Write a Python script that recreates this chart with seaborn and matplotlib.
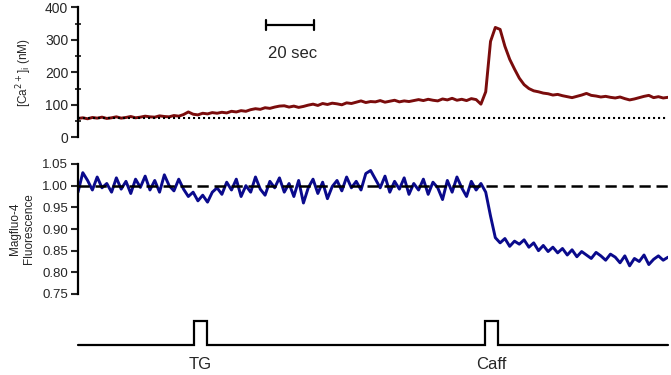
import numpy as np
import pandas as pd
import matplotlib
matplotlib.use("Agg")
import matplotlib.pyplot as plt
import seaborn as sns

# ---------------- data ----------------
time_s = list(range(0, 248, 2))  # seconds

ca_nM = [
    58, 60, 57, 61, 59, 62, 58, 60, 63, 59, 61, 64, 60, 62, 65,
    63, 62, 66, 64, 63, 67, 65, 70, 78, 71, 69, 74, 72, 76, 74,
    77, 75, 80, 78, 82, 80, 85, 88, 86, 91, 89, 93, 96,
    97, 93, 96, 92, 95, 99, 102, 98, 104, 101, 105, 103, 100, 106, 104,
    108, 112, 107, 110, 109, 113, 108, 111, 114, 109, 112, 110, 113,
    116, 113, 117, 114, 112, 118, 115, 120, 114, 117, 113, 119, 116,
    102,
    140, 295, 338, 332, 280, 240, 210, 182, 162, 150, 143, 140, 136, 134, 130, 132,
    128, 125, 122, 126, 130, 135, 129, 127, 124, 126, 123, 121, 124, 119, 115,
    118, 122, 126, 129, 122, 125, 121, 123,
]

magfluo = [
    0.985, 1.030, 1.012, 0.990, 1.020, 0.995, 1.005, 0.985, 1.018, 0.992, 1.010, 0.982, 1.015, 0.996, 1.022,
    0.990, 1.012, 0.985, 1.025, 1.000, 0.988, 1.015, 0.992, 0.975, 0.985, 0.965, 0.978, 0.962, 0.985, 0.995,
    0.980, 1.008, 0.990, 1.015, 0.975, 1.000, 0.985, 1.020, 0.992, 0.978, 1.010, 0.995, 1.018,
    0.985, 1.005, 0.975, 1.012, 0.960, 0.995, 1.015, 0.982, 1.008, 0.970, 0.998, 1.012, 0.988, 1.020, 0.995,
    1.010, 0.990, 1.028, 1.035, 1.015, 0.995, 1.022, 0.985, 1.010, 0.992, 1.018, 0.980, 1.005,
    0.990, 1.015, 0.980, 1.008, 0.995, 0.968, 1.012, 0.985, 1.020, 0.995, 0.975, 1.010, 0.990,
    1.005,
    0.985, 0.930, 0.880, 0.868, 0.878, 0.860, 0.872, 0.865, 0.875, 0.858, 0.868, 0.850, 0.862, 0.848, 0.858, 0.845,
    0.855, 0.840, 0.852, 0.836, 0.848, 0.840, 0.832, 0.846, 0.838, 0.828, 0.842, 0.835, 0.822, 0.838, 0.815,
    0.832, 0.825, 0.840, 0.818, 0.830, 0.838, 0.828, 0.835,
]

ca_baseline = 58
mag_baseline = 1.00
ca_ticks = [0, 100, 200, 300, 400]
mag_ticks = [0.75, 0.80, 0.85, 0.90, 0.95, 1.00, 1.05]

stim_labels = ["TG", "Caff"]
stim_on = [48.3, 169.6]
stim_off = [53.8, 175.0]
t_end = 246

scalebar_start = 78.3
scalebar_len = 20

# ---------------- style ----------------
sns.set_style("white")
plt.rcParams["font.family"] = ["Liberation Sans", "DejaVu Sans"]

W, H = 671, 375
fig = plt.figure(figsize=(W / 100, H / 100), dpi=100)

def box(x0, y0, x1, y1):
    return [x0 / W, 1 - y1 / H, (x1 - x0) / W, (y1 - y0) / H]

ax1 = fig.add_axes(box(78, 7.3, 668, 137.3))
ax2 = fig.add_axes(box(78, 164, 668, 294))
ax3 = fig.add_axes(box(78, 321, 668, 345))

red = "#7a0c0c"
blue = "#0a0a8c"

df = pd.DataFrame({"t": time_s, "ca": ca_nM, "mag": magfluo})

# ---- top: Ca ----
sns.lineplot(data=df, x="t", y="ca", ax=ax1, color=red, lw=2.1,
             estimator=None, sort=False)
ax1.plot([0, t_end - 1], [ca_baseline, ca_baseline], color="black",
         lw=1.5, ls=(0, (1, 1.4)))
ax1.set_xlim(0, t_end)
ax1.set_ylim(0, 400)
ax1.set_yticks(ca_ticks)
ax1.set_yticks([50, 150, 250, 350], minor=True)
ax1.set_xticks([])
for s in ["top", "right", "bottom"]:
    ax1.spines[s].set_visible(False)
ax1.spines["left"].set_linewidth(1.6)
ax1.spines["left"].set_color("black")
ax1.tick_params(axis="y", which="major", direction="out", length=5, width=1.5,
                labelsize=10, left=True, pad=2)
ax1.tick_params(axis="y", which="minor", direction="inout", length=4, width=1.3,
                left=True)
ax1.set_xlabel("")
ax1.set_ylabel(r"[Ca$^{2+}$]$_{\rm i}$ (nM)", fontsize=8.5, labelpad=8)

# scale bar
y_sb = 345
ax1.plot([scalebar_start, scalebar_start + scalebar_len], [y_sb, y_sb],
         color="black", lw=1.6, clip_on=False)
for xx in [scalebar_start, scalebar_start + scalebar_len]:
    ax1.plot([xx, xx], [y_sb - 15, y_sb + 15], color="black", lw=1.6, clip_on=False)
ax1.text(scalebar_start + scalebar_len / 2 + 1, 258, "20 sec", ha="center",
         va="center", fontsize=12)

# ---- bottom: Magfluo ----
sns.lineplot(data=df, x="t", y="mag", ax=ax2, color=blue, lw=2.1,
             estimator=None, sort=False)
ax2.plot([0, t_end], [mag_baseline, mag_baseline], color="black", lw=1.8,
         ls=(0, (4.5, 2.3)))
ax2.set_xlim(0, t_end)
ax2.set_ylim(0.75, 1.05)
ax2.set_yticks(mag_ticks)
ax2.set_yticklabels([f"{v:.2f}" for v in mag_ticks])
ax2.set_xticks([])
for s in ["top", "right", "bottom"]:
    ax2.spines[s].set_visible(False)
ax2.spines["left"].set_linewidth(1.6)
ax2.spines["left"].set_color("black")
ax2.tick_params(axis="y", direction="out", length=5, width=1.5,
                labelsize=9.5, left=True, pad=2)
ax2.set_xlabel("")
ax2.set_ylabel("Magfluo-4\nFluorescence", fontsize=8.5, labelpad=5,
               linespacing=1.3)

# ---- stimulus trace ----
sx, sy = [0], [0]
for on, off in zip(stim_on, stim_off):
    sx += [on, on, off, off]
    sy += [0, 1, 1, 0]
sx.append(t_end)
sy.append(0)
ax3.plot(sx, sy, color="black", lw=1.6, clip_on=False, solid_joinstyle="miter")
ax3.set_xlim(0, t_end)
ax3.set_ylim(0, 1)
ax3.axis("off")
for lab, on, off in zip(stim_labels, stim_on, stim_off):
    ax3.text((on + off) / 2, -0.83, lab, ha="center", va="center", fontsize=12)

fig.savefig("out.png", dpi=100)
